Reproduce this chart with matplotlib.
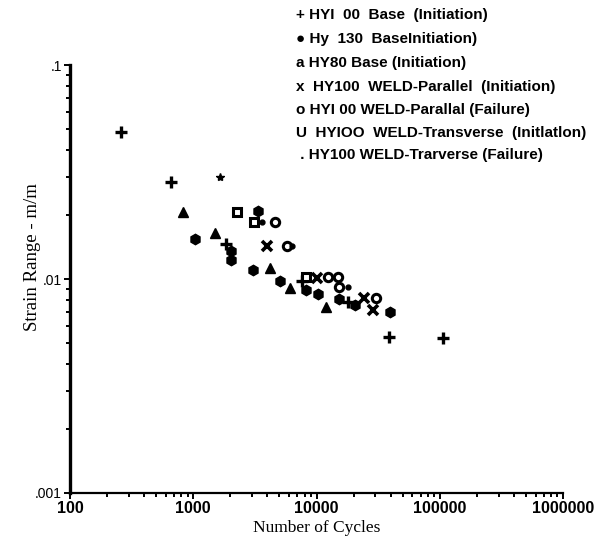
import matplotlib
matplotlib.use('Agg')
import matplotlib.pyplot as plt
import numpy as np
from matplotlib.ticker import LogLocator, FixedLocator, NullFormatter

plt.rcParams['font.family'] = ['Liberation Sans', 'DejaVu Sans']

# cycles / strain range for each data set
hy100_base_init_n = [258, 666, 1844, 7585, 18010, 38520, 106900]
hy100_base_init_s = [0.0488, 0.0283, 0.01465, 0.00979, 0.00781, 0.00534, 0.00528]

hy130_base_init_n = [3352, 1033, 2025, 2025, 3037, 5056, 8218, 10225, 15170, 20530, 39470]
hy130_base_init_s = [0.0208, 0.01533, 0.01345, 0.01227, 0.01096, 0.00982, 0.00888,
                     0.00848, 0.00804, 0.00756, 0.00701]

hy80_base_init_n = [821, 1510, 4195, 6130, 11940]
hy80_base_init_s = [0.0206, 0.01635, 0.0112, 0.00905, 0.00738]

weld_par_init_n = [3988, 10150, 24290, 29000]
weld_par_init_s = [0.01423, 0.01014, 0.00815, 0.00716]

weld_par_fail_n = [4606, 5710, 12460, 15080, 15310, 30400]
weld_par_fail_s = [0.01853, 0.01423, 0.01025, 0.01027, 0.00916, 0.00815]

weld_tr_init_n = [2278, 3111, 8218]
weld_tr_init_s = [0.0206, 0.01847, 0.01025]

weld_tr_fail_n = [3633, 6270, 18110]
weld_tr_fail_s = [0.01847, 0.01423, 0.00916]

star_n = [1648]
star_s = [0.0301]

legend_lines = [
    '+ HYI  00  Base  (Initiation)',
    '\u25cf Hy  130  BaseInitiation)',
    'a HY80 Base (Initiation)',
    'x  HY100  WELD-Parallel  (Initiation)',
    'o HYI 00 WELD-Parallal (Failure)',
    'U  HYIOO  WELD-Transverse  (Initlatlon)',
    ' . HY100 WELD-Trarverse (Failure)',
]

xticks = [100, 1000, 10000, 100000, 1000000]
xtick_labels = ['100', '1000', '10000', '100000', '1000000']
yticks = [0.001, 0.01, 0.1]
ytick_labels = ['.001', '.01', '.1']

fig = plt.figure(figsize=(5.99, 5.51), dpi=100)
ax = fig.add_axes([70 / 599, 1 - 493 / 551, 493 / 599, 428 / 551])

k = 'black'
ax.plot(hy100_base_init_n, hy100_base_init_s, ls='none', marker='+', ms=8.5, mew=2.4, color=k)
ax.plot(hy130_base_init_n, hy130_base_init_s, ls='none', marker='h', ms=7.5, color=k)
ax.plot(hy80_base_init_n, hy80_base_init_s, ls='none', marker='^', ms=7.5, color=k)
ax.plot(weld_par_init_n, weld_par_init_s, ls='none', marker='x', ms=6.5, mew=2.6, color=k)
ax.plot(weld_par_fail_n, weld_par_fail_s, ls='none', marker='o', ms=6, mew=2.2,
        mfc='white', mec=k)
ax.plot(weld_tr_init_n, weld_tr_init_s, ls='none', marker='s', ms=6, mew=2.2,
        mfc='white', mec=k)
ax.plot(weld_tr_fail_n, weld_tr_fail_s, ls='none', marker='o', ms=3.5, color=k)
ax.plot(star_n, star_s, ls='none', marker='*', ms=6, color=k)

ax.set_xscale('log')
ax.set_yscale('log')
ax.set_xlim(100, 1000000)
ax.set_ylim(0.001, 0.1)

for s in ['top', 'right']:
    ax.spines[s].set_visible(False)
ax.spines['left'].set_linewidth(2.4)
ax.spines['bottom'].set_linewidth(1.6)

ax.xaxis.set_major_locator(FixedLocator(xticks))
ax.set_xticklabels(xtick_labels, fontsize=11.5, fontweight='bold')
ax.yaxis.set_major_locator(FixedLocator(yticks))
ax.set_yticklabels(ytick_labels, fontsize=10)
ax.xaxis.set_minor_locator(LogLocator(base=10, subs=np.arange(2, 10)))
ax.yaxis.set_minor_locator(LogLocator(base=10, subs=np.arange(2, 10)))
ax.xaxis.set_minor_formatter(NullFormatter())
ax.yaxis.set_minor_formatter(NullFormatter())
ax.tick_params(which='major', length=4, width=1.4, pad=2)
ax.tick_params(which='minor', length=3, width=1.4)

ax.set_xlabel('Number of Cycles', family='Liberation Serif', fontsize=12.5, labelpad=3)
ax.set_ylabel('Strain Range - m/m', family='Liberation Serif', fontsize=13.5)
ax.yaxis.set_label_coords(-0.058, (493 - 257) / 428)

rows = [15, 39, 63, 87, 110, 133, 155]
for txt, yp in zip(legend_lines, rows):
    fig.text(296 / 599, 1 - yp / 551, txt, fontsize=11, fontweight='bold',
             va='center', ha='left')

fig.savefig('out.png', dpi=100)
